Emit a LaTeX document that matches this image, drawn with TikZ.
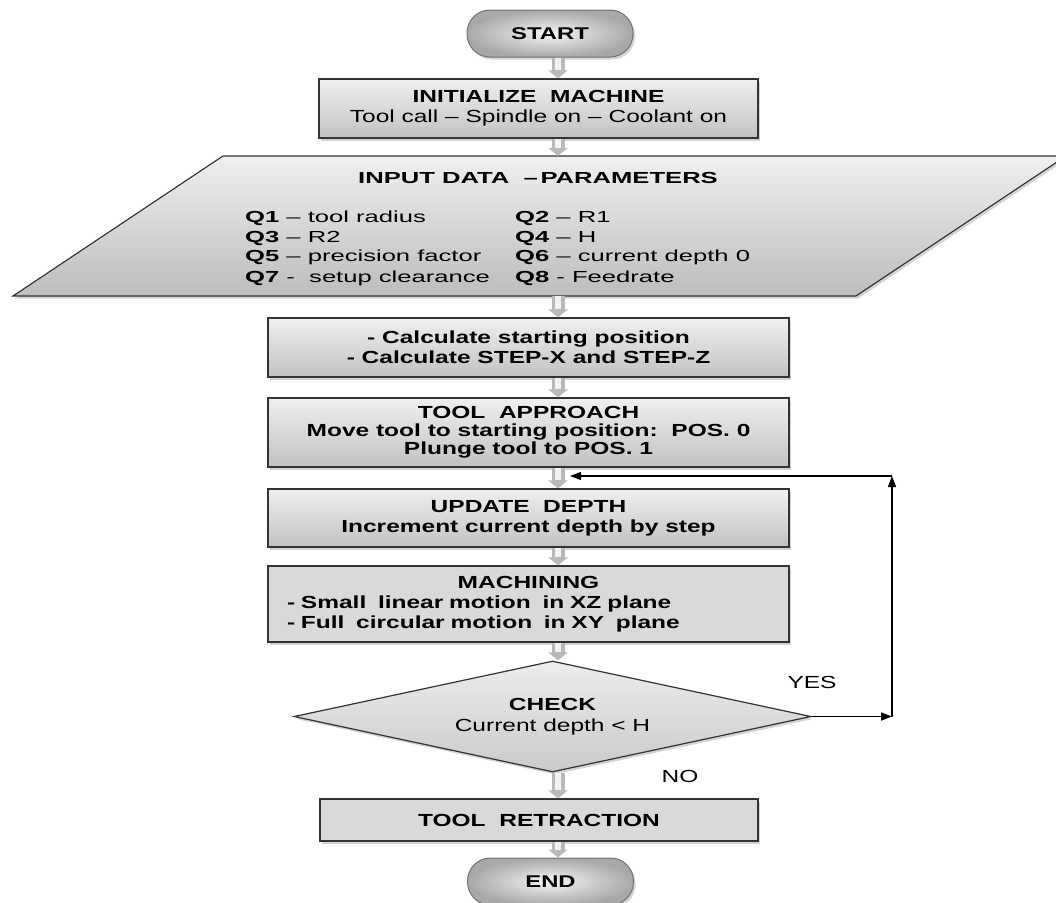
\documentclass[tikz,border=0pt]{standalone}
\usepackage{fontspec}
\setmainfont{Liberation Sans}[FakeStretch=1.4]
\newfontfamily\parfont{Liberation Sans}[FakeStretch=1.6]
\usetikzlibrary{arrows.meta,shapes.geometric,shadows}

\tikzset{
    shadowed/.style={drop shadow={shadow xshift=2pt,shadow yshift=-2.5pt,opacity=0.35}},
    procbox/.style={draw=black!80, line width=1.2pt, top color=gray!12, bottom color=gray!48,
        inner sep=0pt, minimum width=521pt, align=center, shadowed,
        font=\fontsize{17.5}{20}\selectfont\bfseries},
    flatbox/.style={procbox, top color=gray!30, bottom color=gray!30},
    terminal/.style={draw=black!55, line width=1pt, rounded corners=23pt, minimum width=166pt,
        minimum height=47pt, shading=radial, inner color=gray!8, outer color=gray!68, shadowed,
        font=\fontsize{17}{20}\selectfont\bfseries},
    decision/.style={diamond, draw=black!80, line width=1.2pt, aspect=4.66, inner sep=0pt,
        minimum width=517pt, minimum height=111pt, top color=gray!14, bottom color=gray!42,
        align=center, shadowed, font=\fontsize{17.5}{21}\selectfont\bfseries},
    partext/.style={font=\fontsize{16}{19}\parfont, inner sep=0pt},
    flowouter/.style={line width=13pt, draw=gray!55, -{Triangle[length=8pt,width=19pt]}},
    flowinner/.style={line width=6pt, draw=gray!10, shorten >=8pt},
    looparrow/.style={draw=black, line width=1.3pt, -{Triangle[length=11pt,width=8pt]}},
    answer/.style={font=\fontsize{17.5}{20}\selectfont, inner sep=0pt}
}
\newcommand{\flowarrow}[2]{%
    \draw[flowouter] (#1) -- (#2);
    \draw[flowinner] (#1) -- (#2);}

\begin{document}
\begin{tikzpicture}[x=1pt,y=-1pt]
    \useasboundingbox (0,0) rectangle (1056,902);

    % column of the block arrows
    \coordinate (ax) at (558,0);

    \node[terminal] (start) at (550,33.5) {START};
    \node[procbox, minimum width=439pt, minimum height=59pt] (init) at (538.5,108.5)
        {INITIALIZE\ \ MACHINE\\ \mdseries Tool call – Spindle on – Coolant on};

    % input data
    \path[draw=black!80, line width=1.2pt, top color=gray!12, bottom color=gray!52, shadowed]
        (13,296) -- (223,156) -- (1066,156) -- (856,296) -- cycle;
    \coordinate (intop) at (558,156);
    \coordinate (inbot) at (558,296);
    \node[partext, font=\fontsize{16}{19}\parfont\bfseries] (intitle) at (538,178)
        {INPUT DATA\ \ –\,PARAMETERS};
    \foreach \qa/\qb/\yy in {{\textbf{Q1} – tool radius}/{\textbf{Q2} – R1}/222,
        {\textbf{Q3} – R2}/{\textbf{Q4} – H}/242,
        {\textbf{Q5} – precision factor}/{\textbf{Q6} – current depth 0}/261,
        {\textbf{Q7} -\ \ setup clearance}/{\textbf{Q8} - Feedrate}/282}{
        \node[partext, anchor=base west] (qa\yy) at (245,\yy) {\qa};
        \node[partext, anchor=base west] (qb\yy) at (515,\yy) {\qb};
    }

    \node[procbox, minimum height=59pt] (calc) at (528.5,347.5)
        {- Calculate starting position\\ - Calculate STEP-X and STEP-Z};
    \node[procbox, minimum height=69pt, font=\fontsize{17.5}{18}\selectfont\bfseries] (approach) at (528.5,432.5)
        {TOOL\ \ APPROACH\\ Move tool to starting position:\ \ POS. 0\\ Plunge tool to POS. 1};
    \node[procbox, minimum height=58pt] (update) at (528.5,518)
        {UPDATE\ \ DEPTH\\ Increment current depth by step};
    \node[flatbox, minimum height=76pt, text width=483pt, align=left] (machining) at (528.5,604)
        {\makebox[\hsize][c]{MACHINING}\\ - Small\ \ linear motion\ \ in XZ plane\\ - Full\ \ circular motion\ \ in XY\ \ plane};
    \node[decision] (check) at (552.5,716.5) {CHECK\\ \mdseries Current depth < H};
    \node[flatbox, minimum width=438pt, minimum height=42pt] (retract) at (539,820)
        {TOOL\ \ RETRACTION};
    \node[terminal] (end) at (550.5,881.5) {END};

    % main flow
    \flowarrow{start.south -| ax}{init.north -| ax}
    \flowarrow{init.south -| ax}{intop}
    \flowarrow{inbot}{calc.north -| ax}
    \flowarrow{calc.south -| ax}{approach.north -| ax}
    \flowarrow{approach.south -| ax}{update.north -| ax}
    \flowarrow{update.south -| ax}{machining.north -| ax}
    \flowarrow{machining.south -| ax}{check.north -| ax}
    \flowarrow{check.south -| ax}{retract.north -| ax}
    \flowarrow{retract.south -| ax}{end.north -| ax}

    % loop back
    \coordinate (loopR) at (892,476);
    \coordinate (loopin) at (570,476);
    \draw[looparrow] (check.east) -- (check.east -| loopR);
    \draw[looparrow] (check.east -| loopR) -- (loopR);
    \draw[looparrow] (loopR) -- (loopin);

    \node[answer] (yes) at (812,682) {YES};
    \node[answer] (no) at (680,776) {NO};
\end{tikzpicture}
\end{document}
